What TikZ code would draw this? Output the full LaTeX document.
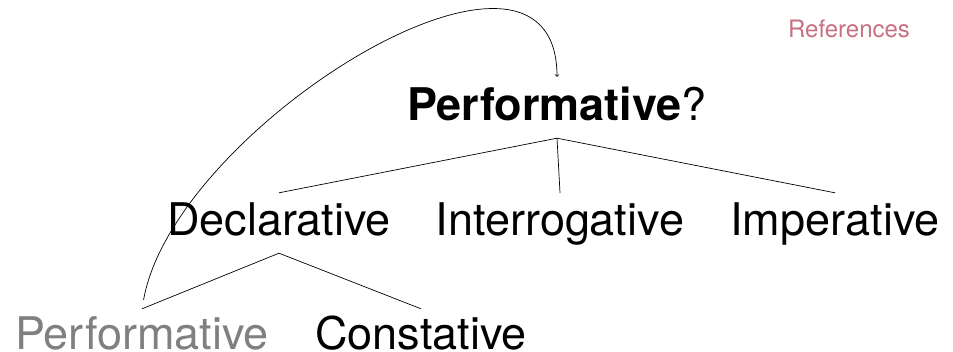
\documentclass[tikz,border=0pt]{standalone}
\usepackage{fontspec}
\setmainfont{TeX Gyre Heros}
\usepackage{xcolor}
\usepackage{tikz}
\definecolor{refpink}{RGB}{200,112,130}
\tikzset{
  word/.style={inner sep=0pt, anchor=base, font=\fontsize{45}{54}\selectfont},
  toplevel/.style={word, text height=44pt, text depth=17pt},
  midlevel/.style={word, text height=43pt, text depth=17pt},
  leaflevel/.style={word, text height=41pt, text depth=0pt},
  branch/.style={black, line width=0.7pt},
}

\begin{document}
\begin{tikzpicture}[x=1pt, y=1pt]
  \useasboundingbox (0,0) rectangle (953,-352);
  \node[anchor=base, text=refpink, font=\fontsize{24}{28}\selectfont] (refs) at (849,-38) {References};
  \node[toplevel] (perfq) at (557,-121) {\textbf{Performative}?};
  \node[midlevel] (decl) at (279,-236) {Declarative};
  \node[midlevel] (inter) at (560,-236) {Interrogative};
  \node[midlevel] (imper) at (835,-236) {Imperative};
  \node[leaflevel, text=gray] (perf) at (142,-350) {Performative};
  \node[leaflevel] (const) at (421,-350) {Constative};
  \draw[branch] (perfq.south) -- (decl.north);
  \draw[branch] (perfq.south) -- (inter.north);
  \draw[branch] (perfq.south) -- (imper.north);
  \draw[branch] (decl.south) -- (perf.north);
  \draw[branch] (decl.south) -- (const.north);
  \draw[branch, ->, shorten <=9pt] (perf.north) to[out=80, in=90] (perfq.north);
\end{tikzpicture}
\end{document}
